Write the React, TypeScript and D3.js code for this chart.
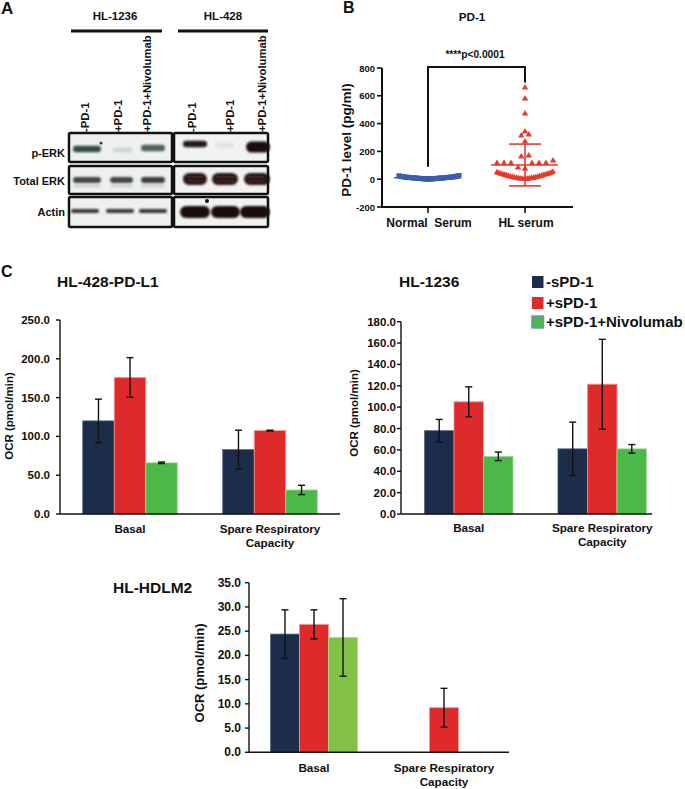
import React from "react";
import * as d3 from "d3";

const FONT = "'Liberation Sans', Arial, Helvetica, sans-serif";

// ---------- Panel A (western blot) ----------
const blotGroups = ["HL-1236", "HL-428"];
const laneLabels = ["-PD-1", "+PD-1", "+PD-1+Nivolumab"];
const blotRows = ["p-ERK", "Total ERK", "Actin"];
const pErkLeft = [0.9, 0.14, 0.78];
const totalErkLeft = [0.85, 0.85, 0.9];
const actinLeft = [0.9, 0.9, 0.9];
const pErkRight = [0.95, 0.1, 1.0];
const totalErkRight = [1, 1, 1];
const actinRight = [1, 1, 1];

// ---------- Panel B (scatter) ----------
const scatterGroups = ["Normal  Serum", "HL serum"];
const scatterTicks = [-200, 0, 200, 400, 600, 800];
const normalSerum = [0, 1, 1, 2, 2, 3, 3, 4, 4, 5, 5, 6, 6, 7, 7, 8, 8, 9, 9, 10, 10, 11, 11, 12, 12, 13, 13, 14, 14, 15, 15, 16, 17, 18, 19, 20, 21, 22, 24, 26];
const hlSerum = [
  0, 1, 2, 3, 4, 5, 6, 8, 9, 10, 12, 13, 15, 16, 18, 20, 22, 24, 26, 28, 30, 32, 34, 36, 38, 40, 43, 46, 49, 52,
  75, 83, 115, 115, 115, 115, 115, 115, 133,
  162, 169, 270, 313, 320, 342, 471, 579, 658,
];

// ---------- Panel C (bar charts) ----------
const categories = ["Basal", "Spare Respiratory Capacity"];
const categoryLines = [["Basal"], ["Spare Respiratory", "Capacity"]];
const seriesNames = ["-sPD-1", "+sPD-1", "+sPD-1+Nivolumab"];

const hl428Minus = [120, 83];
const hl428MinusErr = [28, 25];
const hl428Plus = [176, 107.5];
const hl428PlusErr = [25.5, 0.5];
const hl428Nivo = [66, 31];
const hl428NivoErr = [1, 6];

const hl1236Minus = [78, 61];
const hl1236MinusErr = [10.5, 25];
const hl1236Plus = [105, 121.5];
const hl1236PlusErr = [14, 42];
const hl1236Nivo = [54, 61];
const hl1236NivoErr = [4, 4];

const hdlm2Minus = [24.4, 0];
const hdlm2MinusErr = [5, 0];
const hdlm2Plus = [26.4, 9.2];
const hdlm2PlusErr = [3, 4];
const hdlm2Nivo = [23.7, 0];
const hdlm2NivoErr = [8, 0];

const NAVY = "#1b2d4b";
const RED = "#df2a2b";
const GREEN = "#4cb848";
const GREEN2 = "#82c146";

function T(props: any) {
  const { children, size = 11, weight = "bold", ...rest } = props;
  return (
    <text fontFamily={FONT} fontSize={size} fontWeight={weight} fill="#111" {...rest}>
      {children}
    </text>
  );
}

// ---------- Blot ----------
function Band({ x0, x1, cy, h, op, color }: any) {
  return (
    <rect x={x0} y={cy - h / 2} width={x1 - x0} height={h} rx={h / 2} fill={color} opacity={op} filter="url(#blur)" />
  );
}

function PanelA() {
  const leftLanes = [[73, 101], [110, 133], [141, 165]];
  const leftFaint = [[113, 132]];
  const rightLanes = [[183, 207], [212, 238], [244, 268]];
  const actinRightLanes = [[180, 210], [211, 240], [240, 268]];
  const actinLeftLanes = [[71, 99], [106, 134], [139, 167]];
  const rowsY = [[133, 29], [166, 28], [197, 30]];
  const laneX = [[85, 118, 147], [192, 230, 262]];
  return (
    <g>
      <T x={1} y={14} size={17}>A</T>
      {blotGroups.map((g, i) => (
        <T key={g} x={i === 0 ? 115 : 223} y={20} size={11.5} textAnchor="middle">{g}</T>
      ))}
      <line x1={71} x2={162} y1={31} y2={31} stroke="#111" strokeWidth={3} />
      <line x1={178} x2={268} y1={31} y2={31} stroke="#111" strokeWidth={3} />
      {laneX.map((xs, gi) =>
        xs.map((x, li) => (
          <T key={gi + "-" + li} size={11.3} transform={`translate(${x + 4},132) rotate(-90)`}>
            {laneLabels[li]}
          </T>
        ))
      )}
      {blotRows.map((r, i) => (
        <T key={r} x={65} y={[157, 185, 216][i]} size={11} textAnchor="end">{r}</T>
      ))}
      {rowsY.map(([y, h], i) => (
        <g key={i}>
          <rect x={69} y={y} width={103} height={h} fill="#eef0ee" />
          <rect x={174} y={y} width={94} height={h} fill="#f2f2f2" />
        </g>
      ))}
      {leftLanes.map(([a, b], i) => (
        <Band key={"pl" + i} x0={i === 1 ? leftFaint[0][0] : a} x1={i === 1 ? leftFaint[0][1] : b} cy={i === 0 ? 149 : i === 1 ? 150 : 148} h={i === 1 ? 5 : 6.5} op={pErkLeft[i]} color="#1f3c34" />
      ))}
      <circle cx={101} cy={143} r={1.6} fill="#111" opacity={0.8} />
      {leftLanes.map(([a, b], i) => (
        <g key={"tl" + i}>
          <Band x0={a} x1={b} cy={180} h={6} op={totalErkLeft[i]} color="#262b2a" />
          <Band x0={a} x1={b} cy={186} h={3} op={0.15} color="#262b2a" />
        </g>
      ))}
      {actinLeftLanes.map(([a, b], i) => (
        <Band key={"al" + i} x0={a} x1={b} cy={211} h={4} op={actinLeft[i]} color="#222" />
      ))}
      <Band x0={rightLanes[0][0]} x1={rightLanes[0][1]} cy={144} h={6.5} op={pErkRight[0]} color="#1a1010" />
      <Band x0={216} x1={234} cy={145} h={5} op={pErkRight[1]} color="#405060" />
      <Band x0={246} x1={270} cy={147} h={11} op={pErkRight[2]} color="#1a1010" />
      {rightLanes.map(([a, b], i) => (
        <g key={"tr" + i}>
          <Band x0={a} x1={b + (i === 2 ? 2 : 0)} cy={179} h={12} op={totalErkRight[i]} color="#2a1414" />
          <line x1={a + 4} x2={b - 4} y1={177} y2={177} stroke="#8a5a50" strokeWidth={0.8} opacity={0.5} />
          <line x1={a + 4} x2={b - 4} y1={181} y2={181} stroke="#8a5a50" strokeWidth={0.8} opacity={0.4} />
        </g>
      ))}
      {actinRightLanes.map(([a, b], i) => (
        <Band key={"ar" + i} x0={a} x1={b + (i === 2 ? 2 : 0)} cy={212} h={12} op={actinRight[i]} color="#1a0c0c" />
      ))}
      <circle cx={207} cy={201} r={2} fill="#1a0c0c" />
      {rowsY.map(([y, h], i) => (
        <g key={"b" + i}>
          <rect x={69} y={y} width={103} height={h} fill="none" stroke="#111" strokeWidth={2.5} rx={1.5} />
          <rect x={174} y={y} width={94} height={h} fill="none" stroke="#111" strokeWidth={2.5} rx={1.5} />
        </g>
      ))}
    </g>
  );
}

// ---------- Scatter ----------
function swarm(values: number[], bins: number[], maxHalf: number, maxSpacing: number) {
  const out: { v: number; dx: number }[] = [];
  for (let b = 0; b < bins.length - 1; b++) {
    const vs = values.filter((v) => v >= bins[b] && v < bins[b + 1]).sort((p, q) => p - q);
    const n = vs.length;
    if (!n) continue;
    const sp = n > 1 ? Math.min(maxSpacing, (2 * maxHalf) / (n - 1)) : 0;
    vs.forEach((v, i) => {
      let off: number;
      if (n % 2 === 1) {
        const k = Math.ceil(i / 2);
        off = i === 0 ? 0 : i % 2 === 1 ? -k : k;
      } else {
        const k = Math.floor(i / 2) + 0.5;
        off = i % 2 === 0 ? -k : k;
      }
      out.push({ v, dx: off * sp });
    });
  }
  return out;
}

function PanelB() {
  const y = d3.scaleLinear().domain([-200, 800]).range([207, 68]);
  const x = d3.scalePoint().domain(scatterGroups).range([428, 525]);
  const axX = 382;
  const axEnd = 573;
  const tri = d3.symbol(d3.symbolTriangle, 18)() as string;
  const sq = d3.symbol(d3.symbolSquare, 26)() as string;
  const blue = swarm(normalSerum, [-50, 200], 30, 7);
  const red = swarm(hlSerum, [0, 60, 140, 200, 300, 330, 360, 500, 600, 1000], 28, 7.5);
  const BLUE = "#3c5cb0";
  const PRED = "#e8392b";
  const stats = [
    { data: normalSerum, g: scatterGroups[0], c: BLUE },
    { data: hlSerum, g: scatterGroups[1], c: PRED },
  ];
  return (
    <g>
      <T x={343} y={13} size={16}>B</T>
      <T x={472} y={21} size={11.7} textAnchor="middle">PD-1</T>
      <T x={475} y={58} size={10.2} textAnchor="middle">****p&lt;0.0001</T>
      <path d={`M${x(scatterGroups[0])},${y(90)}V${y(800) - 1}H${x(scatterGroups[1])}V${y(695)}`} fill="none" stroke="#111" strokeWidth={2} />
      {blue.map((p, i) => (
        <path key={"b" + i} d={sq} transform={`translate(${(x(scatterGroups[0]) as number) + 1 + p.dx},${y(p.v)})`} fill={BLUE} />
      ))}
      {red.map((p, i) => (
        <path key={"r" + i} d={tri} transform={`translate(${(x(scatterGroups[1]) as number) + p.dx},${y(p.v)})`} fill={PRED} />
      ))}
      {stats.map((s) => {
        const m = d3.mean(s.data) as number;
        const sd = d3.deviation(s.data) as number;
        const cx = x(s.g) as number;
        return (
          <g key={s.g} stroke={s.c} strokeWidth={1.6}>
            <line x1={cx - 34} x2={cx + 33} y1={y(m)} y2={y(m)} />
            <line x1={cx} x2={cx} y1={y(m + sd)} y2={y(m - sd)} />
            <line x1={cx - 16} x2={cx + 16} y1={y(m + sd)} y2={y(m + sd)} />
            <line x1={cx - 16} x2={cx + 16} y1={y(m - sd)} y2={y(m - sd)} />
          </g>
        );
      })}
      <line x1={axX} x2={axX} y1={y(800)} y2={y(-200) + 1} stroke="#111" strokeWidth={2} />
      <line x1={axX - 1} x2={axEnd} y1={y(-200)} y2={y(-200)} stroke="#111" strokeWidth={2} />
      {scatterTicks.map((t) => (
        <g key={t}>
          <line x1={axX - 5} x2={axX} y1={y(t)} y2={y(t)} stroke="#111" strokeWidth={1.6} />
          <T x={axX - 7} y={y(t) + 3.5} size={9.5} textAnchor="end">{t}</T>
        </g>
      ))}
      {scatterGroups.map((g) => (
        <g key={g}>
          <line x1={x(g)} x2={x(g)} y1={y(-200)} y2={y(-200) + 6} stroke="#111" strokeWidth={1.6} />
          <T x={(x(g) as number) + 1} y={227} size={12} textAnchor="middle" style={{ whiteSpace: "pre" }}>{g}</T>
        </g>
      ))}
      <T transform={`translate(351,140) rotate(-90)`} size={13.5} textAnchor="middle">PD-1 level (pg/ml)</T>
    </g>
  );
}

// ---------- Bar chart ----------
function BarChart(props: any) {
  const { title, titleX, titleY, ax, axEnd, bandStart, bandEnd, yTop, y0, yMax, step, tickLabelX, tickSize, labelX, labelY, labelSize, catY, pad, means, errs, colors } = props;
  const y = d3.scaleLinear().domain([0, yMax]).range([y0, yTop]);
  const x0 = d3.scaleBand().domain(categories).range([bandStart, bandEnd]);
  const x1 = d3.scaleBand().domain(seriesNames).range([0, x0.bandwidth()]).paddingInner(0).paddingOuter(pad);
  const ticks = d3.range(0, yMax + step / 2, step);
  const fmt = d3.format(".1f");
  const strokeCols = ["#5a6a88", "#f59a8e", "#a8dca0"];
  return (
    <g>
      <T x={titleX} y={titleY} size={15.5}>{title}</T>
      {categories.map((c, ci) =>
        seriesNames.map((s, si) => {
          const v = means[si][ci];
          if (!v) return null;
          const bx = (x0(c) as number) + (x1(s) as number);
          const w = x1.bandwidth();
          return (
            <rect key={c + s} x={bx} y={y(v)} width={w} height={y(0) - y(v)} fill={colors[si]} stroke={strokeCols[si]} strokeWidth={0.8} />
          );
        })
      )}
      {categories.map((c, ci) =>
        seriesNames.map((s, si) => {
          const v = means[si][ci];
          const e = errs[si][ci];
          if (!v) return null;
          const cx = (x0(c) as number) + (x1(s) as number) + x1.bandwidth() / 2;
          return (
            <g key={"e" + c + s} stroke="#111" strokeWidth={1.4}>
              <line x1={cx} x2={cx} y1={y(v + e)} y2={y(v - e)} />
              <line x1={cx - 3.5} x2={cx + 3.5} y1={y(v + e)} y2={y(v + e)} />
              <line x1={cx - 3.5} x2={cx + 3.5} y1={y(v - e)} y2={y(v - e)} />
            </g>
          );
        })
      )}
      <line x1={ax} x2={ax} y1={y(yMax)} y2={y(0)} stroke="#111" strokeWidth={1.4} />
      <line x1={ax} x2={axEnd} y1={y(0)} y2={y(0)} stroke="#111" strokeWidth={1.4} />
      {ticks.map((t: number) => (
        <g key={t}>
          <line x1={ax - 4} x2={ax} y1={y(t)} y2={y(t)} stroke="#111" strokeWidth={1.4} />
          <T x={tickLabelX} y={y(t) + 4} size={tickSize} textAnchor="end">{fmt(t)}</T>
        </g>
      ))}
      {categories.map((c, ci) => (
        <T key={c} x={(x0(c) as number) + x0.bandwidth() / 2} y={catY} size={11.7} textAnchor="middle">
          {categoryLines[ci].map((ln, li) => (
            <tspan key={li} x={(x0(c) as number) + x0.bandwidth() / 2} dy={li === 0 ? 0 : 14}>{ln}</tspan>
          ))}
        </T>
      ))}
      <T transform={`translate(${labelX},${labelY}) rotate(-90)`} size={labelSize} textAnchor="middle" dominantBaseline="central">OCR (pmol/min)</T>
    </g>
  );
}

function Legend() {
  const cols = [NAVY, RED, GREEN];
  const ys = [276, 297, 316];
  return (
    <g>
      {seriesNames.map((s, i) => (
        <g key={s}>
          <rect x={532} y={ys[i]} width={11.5} height={12} fill={cols[i]} stroke={i === 2 ? "#6f8fc0" : "none"} strokeWidth={1.5} />
          <T x={546} y={ys[i] + 11} size={15}>{s}</T>
        </g>
      ))}
    </g>
  );
}

export default function App() {
  return (
    <svg width={685} height={789} viewBox="0 0 685 789" style={{ position: "absolute", left: 0, top: 0, background: "#fff" }}>
      <defs>
        <filter id="blur" x="-20%" y="-50%" width="140%" height="200%">
          <feGaussianBlur stdDeviation="1" />
        </filter>
      </defs>
      <rect width={685} height={789} fill="#fff" />
      <PanelA />
      <PanelB />
      <T x={1} y={277} size={16}>C</T>
      <BarChart
        title="HL-428-PD-L1" titleX={57} titleY={287}
        ax={60} axEnd={340} bandStart={60} bandEnd={340}
        yTop={320} y0={514} yMax={250} step={50}
        tickLabelX={50} tickSize={11.5} labelX={9} labelY={416} labelSize={11.5} catY={533} pad={0.72}
        means={[hl428Minus, hl428Plus, hl428Nivo]} errs={[hl428MinusErr, hl428PlusErr, hl428NivoErr]}
        colors={[NAVY, RED, GREEN]}
      />
      <BarChart
        title="HL-1236" titleX={399} titleY={287}
        ax={401} axEnd={652} bandStart={402} bandEnd={669}
        yTop={321.7} y0={514} yMax={180} step={20}
        tickLabelX={396} tickSize={11.5} labelX={354} labelY={413} labelSize={11.5} catY={532} pad={0.76}
        means={[hl1236Minus, hl1236Plus, hl1236Nivo]} errs={[hl1236MinusErr, hl1236PlusErr, hl1236NivoErr]}
        colors={[NAVY, RED, GREEN]}
      />
      <Legend />
      <BarChart
        title="HL-HDLM2" titleX={113} titleY={593}
        ax={249} axEnd={509} bandStart={249} bandEnd={509}
        yTop={582.7} y0={752.3} yMax={35} step={5}
        tickLabelX={241} tickSize={12} labelX={199} labelY={673} labelSize={13} catY={772} pad={0.74}
        means={[hdlm2Minus, hdlm2Plus, hdlm2Nivo]} errs={[hdlm2MinusErr, hdlm2PlusErr, hdlm2NivoErr]}
        colors={[NAVY, RED, GREEN2]}
      />
    </svg>
  );
}
